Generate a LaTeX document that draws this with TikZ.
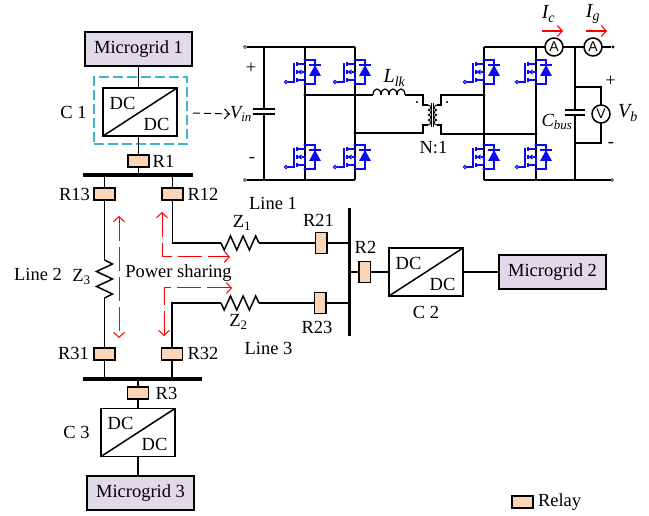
\documentclass[tikz,border=0pt]{standalone}
\usepackage{fontspec}
\setmainfont{Liberation Serif}
\setsansfont{Liberation Sans}
\usetikzlibrary{arrows.meta}
\definecolor{gridfill}{HTML}{E0DAE8}
\definecolor{relayfill}{HTML}{FBD5B5}
\definecolor{framecyan}{HTML}{3FB4D0}
\definecolor{mosblue}{HTML}{0A0AF0}
\begin{document}
\begin{tikzpicture}[
    x=1pt, y=-1pt,
    % Espessura geral das linhas
    line width=1.5pt,
    every node/.style={font=\fontsize{18.5}{20}\selectfont, inner sep=0pt, outer sep=0pt},
    gridbox/.style={draw, fill=gridfill, minimum width=107pt, minimum height=34pt},
    conv/.style={draw, fill=white, minimum width=74pt, minimum height=48pt},
    relay/.style={draw, fill=relayfill, minimum width=21pt, minimum height=12pt},
    relayv/.style={draw, fill=relayfill, minimum width=11.5pt, minimum height=21pt},
    bus/.style={fill=black, minimum width=#1, minimum height=3.4pt},
    share/.style={red, line width=1pt, dash pattern=on 24pt off 6pt, {Straight Barb[length=5pt,width=11pt]}-{Straight Barb[length=5pt,width=11pt]}},
    wire/.style={line width=1.2pt},
    meter/.style={draw, circle, fill=white, minimum size=18pt, font=\sffamily\fontsize{14}{14}\selectfont, line width=1.5pt},
    terminal/.style={circle, fill=black, minimum size=3.4pt}
]
    \useasboundingbox (0,0) rectangle (649,516);

    % ==========================================
    % 1. MICROGRIDS E CONVERSORES
    % ==========================================
    \node[gridbox] (mg1) at (138.5,49) {Microgrid 1};
    \node[gridbox] (mg2) at (552.5,272) {Microgrid 2};
    \node[gridbox] (mg3) at (140.5,493) {Microgrid 3};

    \foreach \nome/\px/\py in {c1/140/112, c2/426/272, c3/138/432.5} {
        \node[conv] (\nome) at (\px,\py) {};
        \draw (\nome.south west) -- (\nome.north east); % Diagonal do conversor
        \node (\nome up) at (\px-17.5,\py-9) {DC};
        \node (\nome low) at (\px+16.5,\py+12) {DC};
    }

    \node[draw=framecyan, dash pattern=on 10pt off 4pt, line width=1.1pt, minimum width=93pt, minimum height=67pt] (c1frame) at (140.5,110.5) {};

    \node (c1label) at (73.5,112) {C 1};
    \node (c2label) at (426,312) {C 2};
    \node (c3label) at (76.5,432) {C 3};

    % ==========================================
    % 2. BARRAMENTOS E RELES
    % ==========================================
    \node[bus=110pt] (bus1) at (138,175) {};
    \node[bus=119pt] (bus3) at (142.5,379) {};
    \node[bus=3pt, minimum height=128pt] (bus2) at (349,272) {};

    \node[relay] (r1) at (138.5,161) {};
    \node[relay] (r13) at (104.5,194) {};
    \node[relay] (r12) at (172.5,194) {};
    \node[relay] (r31) at (104.5,354) {};
    \node[relay] (r32) at (172,354) {};
    \node[relay] (r3) at (138,393) {};
    \node[relayv] (r21) at (321,243) {};
    \node[relayv] (r23) at (320,303) {};
    \node[relayv] (r2) at (364.5,272) {};

    \node (r1label) at (163.5,161) {R1};
    \node (r13label) at (74.5,194) {R13};
    \node (r12label) at (203,194) {R12};
    \node (r31label) at (73.5,353) {R31};
    \node (r32label) at (203,353) {R32};
    \node (r3label) at (166.5,393) {R3};
    \node (r21label) at (318.5,220) {R21};
    \node (r23label) at (317,327) {R23};
    \node (r2label) at (365.5,247) {R2};

    % Ligacoes verticais
    \draw (mg1) -- (mg1.south |- c1.north);
    \draw (mg1.south |- c1.south) -- (r1);
    \draw (r1) -- (r1 |- bus1);
    \draw (r13 |- bus1) -- (r13);
    \draw (r12 |- bus1) -- (r12);
    \draw (r31) -- (r31 |- bus3);
    \draw (r32) -- (r32 |- bus3);
    \draw (r3 |- bus3) -- (r3);
    \draw (r3) -- (r3 |- c3.north);
    \draw (r3 |- c3.south) -- (r3 |- mg3.north);

    % Ligacao ao conversor 2
    \draw (r2 -| bus2) -- (r2);
    \draw (r2) -- (c2);
    \draw (c2) -- (mg2);

    % ==========================================
    % 3. LINHAS E IMPEDANCIAS
    % ==========================================
    \coordinate (z1a) at (221,243);
    \coordinate (z1b) at (259,243);
    \coordinate (z2a) at (221,303);
    \coordinate (z2b) at (259,303);
    \coordinate (z3a) at (104.5,260);
    \coordinate (z3b) at (104.5,298);

    \draw (r12) |- (z1a);
    \draw (z1a) -- ++(3.2,7) -- ++(6.3,-14) -- ++(6.3,14) -- ++(6.3,-14) -- ++(6.3,14) -- ++(6.3,-14) -- (z1b);
    \draw (z1b) -- (r21);
    \draw (r21) -- (r21 -| bus2);

    \draw (r32) |- (z2a);
    \draw (z2a) -- ++(3.2,7) -- ++(6.3,-14) -- ++(6.3,14) -- ++(6.3,-14) -- ++(6.3,14) -- ++(6.3,-14) -- (z2b);
    \draw (z2b) -- (r23);
    \draw (r23) -- (r23 -| bus2);

    \draw (r13) -- (z3a);
    \draw (z3a) -- ++(8,4) -- ++(-16,7.5) -- ++(16,7.5) -- ++(-16,7.5) -- ++(16,7.5) -- (z3b);
    \draw (z3b) -- (r31);

    \node (z1label) at (242,223) {Z\textsubscript{1}};
    \node (z2label) at (238.5,322) {Z\textsubscript{2}};
    \node (z3label) at (81.5,277) {Z\textsubscript{3}};
    \node (line1) at (273,203) {Line 1};
    \node (line2) at (38,274) {Line 2};
    \node (line3) at (268.5,348) {Line 3};
    \node (sharing) at (178.5,273) {Power sharing};

    % Setas de compartilhamento de potencia
    \coordinate (sa1) at (119,216);
    \coordinate (sa2) at (119,338);
    \coordinate (sb1) at (162,212);
    \coordinate (sb2) at (162,257);
    \coordinate (sb3) at (230,257);
    \coordinate (sc1) at (164,336);
    \coordinate (sc2) at (164,288);
    \coordinate (sc3) at (232,288);
    \draw[share] (sa1) -- (sa2);
    \draw[share] (sb1) -- (sb2) -- (sb3);
    \draw[share] (sc1) -- (sc2) -- (sc3);

    % ==========================================
    % 4. CONVERSOR EM PONTE DUPLA ATIVA
    % ==========================================
    \node[terminal, fill=white, draw, line width=.7pt, minimum size=3pt] (tl1) at (245,47) {};
    \node[terminal, fill=white, draw, line width=.7pt, minimum size=3pt] (tl2) at (245,180) {};
    \node[terminal] (tr1) at (613,47) {};
    \node[terminal, fill=white, draw, line width=.7pt, minimum size=3pt] (tr2) at (612,180) {};
    \node[meter] (ic) at (554,47) {A};
    \node[meter] (ig) at (593,47) {A};
    \node[meter] (vb) at (601,114) {V};

    \begin{scope}[wire]
        % Barramentos de entrada e saida
        \draw (tl1) -- (355,47);
        \draw (tl2) -- (355,180);
        \draw (484,47) -- (ic);
        \draw (ic) -- (ig);
        \draw (ig) -- (tr1);
        \draw (484,180) -- (tr2);

        % Bracos das pontes
        \foreach \leg in {305,355,484,536} {
            \draw (\leg,47) -- (\leg,180);
        }

        % Capacitor de entrada
        \draw (264,47) -- (264,109);
        \draw (264,114) -- (264,180);
        \draw (253,109) -- (275,109);
        \draw (253,114) -- (275,114);

        % Capacitor do barramento
        \draw (575,47) -- (575,110);
        \draw (575,115) -- (575,180);
        \draw (565,110) -- (585,110);
        \draw (565,115) -- (585,115);

        % Voltimetro
        \draw (575,87) -| (vb);
        \draw (575,143) -| (vb);

        % Indutor de dispersao
        \draw (305,95) -- (373,95);
        \foreach \x in {373,381,389,397} {
            \draw (\x,95) .. controls (\x,87) and (\x+8,87) .. (\x+8,95);
        }
        \draw (405,95) -- (423,95) -- (423,105) -- (428,105);
        \draw (355,133) -- (423,133) -- (423,125) -- (428,125);

        % Transformador
        \foreach \y in {105,110,115,120} {
            \draw[line width=.9pt] (428,\y) .. controls (431.5,\y) and (431.5,\y+5) .. (428,\y+5);
            \draw[line width=.9pt] (437,\y) .. controls (433.5,\y) and (433.5,\y+5) .. (437,\y+5);
        }
        \draw[line width=.9pt] (431.5,103) -- (431.5,127);
        \draw[line width=.9pt] (433.5,103) -- (433.5,127);
        \draw (484,95) -- (441,95) -- (441,105) -- (437,105);
        \draw (536,134) -- (441,134) -- (441,125) -- (437,125);
        \fill (417,102) circle (1.2);
        \fill (447,102) circle (1.2);

        % Juncoes
        \foreach \px/\py in {305/95, 355/133, 484/95, 536/134} {
            \fill (\px,\py) circle (1.6);
        }
    \end{scope}

    % MOSFETs com diodo em antiparalelo
    \foreach \leg/\off in {305/19,355/20,484/19,536/19} {
        \foreach \lin in {0,85} {
            \begin{scope}[shift={(\leg,\lin)}, mosblue, line width=1.1pt]
                \fill (0,60) circle (1.7);
                \fill (0,84) circle (1.7);
                \draw (-\off+1.5,82) -- (-11,82) -- (-11,63); % Porta
                \draw (-\off,82) circle (1.7);
                \draw (-8,62) -- (-8,66);
                \draw (-8,70) -- (-8,74);
                \draw (-8,78) -- (-8,82);
                \draw (-8,64) -- (0,64);
                \draw (-8,80) -- (0,80);
                \draw (-3,72) -- (0,72) -- (0,80);
                \fill (-8,72) -- (-3.5,69.5) -- (-3.5,74.5) -- cycle;
                \draw (0,60) -- (10,60) -- (10,84) -- (0,84); % Diodo
                \fill (10,65) -- (16,76) -- (4,76) -- cycle;
                \draw (4,65) -- (16,65);
            \end{scope}
        }
    }

    % Rotulos do circuito
    \node (vin) at (241,114) {\textit{V\textsubscript{in}}};
    \coordinate (vinstart) at (193,113);
    \draw[dash pattern=on 7pt off 4pt, line width=1pt, -{Straight Barb[length=5pt,width=10pt]}] (vinstart) -- (vin.west);
    \node (vinplus) at (251,68) {+};
    \node (vinminus) at (252,160) {-};
    \node (llk) at (394.5,78) {\fontsize{20}{20}\selectfont\textit{L\textsubscript{lk}}};
    \node (ratio) at (433.5,148) {N:1};
    \node (iclabel) at (548.5,14) {\fontsize{20}{20}\selectfont\textit{I\textsubscript{c}}};
    \node (iglabel) at (593,14) {\fontsize{20}{20}\selectfont\textit{I\textsubscript{g}}};
    \node (cbus) at (557,122) {\textit{C\textsubscript{bus}}};
    \node (vblabel) at (628,113) {\fontsize{20}{20}\selectfont\textit{V\textsubscript{b}}};
    \node (vbplus) at (610.5,81) {+};
    \node (vbminus) at (611,145) {-};

    \coordinate (ica) at (542,31);
    \coordinate (icb) at (563,31);
    \coordinate (iga) at (586,31);
    \coordinate (igb) at (607,31);
    \draw[red, line width=1.1pt, -{Straight Barb[length=5pt,width=11pt]}] (ica) -- (icb);
    \draw[red, line width=1.1pt, -{Straight Barb[length=5pt,width=11pt]}] (iga) -- (igb);

    % ==========================================
    % 5. LEGENDA
    % ==========================================
    \node[relay] (legend) at (522.5,502) {};
    \node[anchor=west] (legendtext) at (538,502) {Relay};

\end{tikzpicture}
\end{document}
